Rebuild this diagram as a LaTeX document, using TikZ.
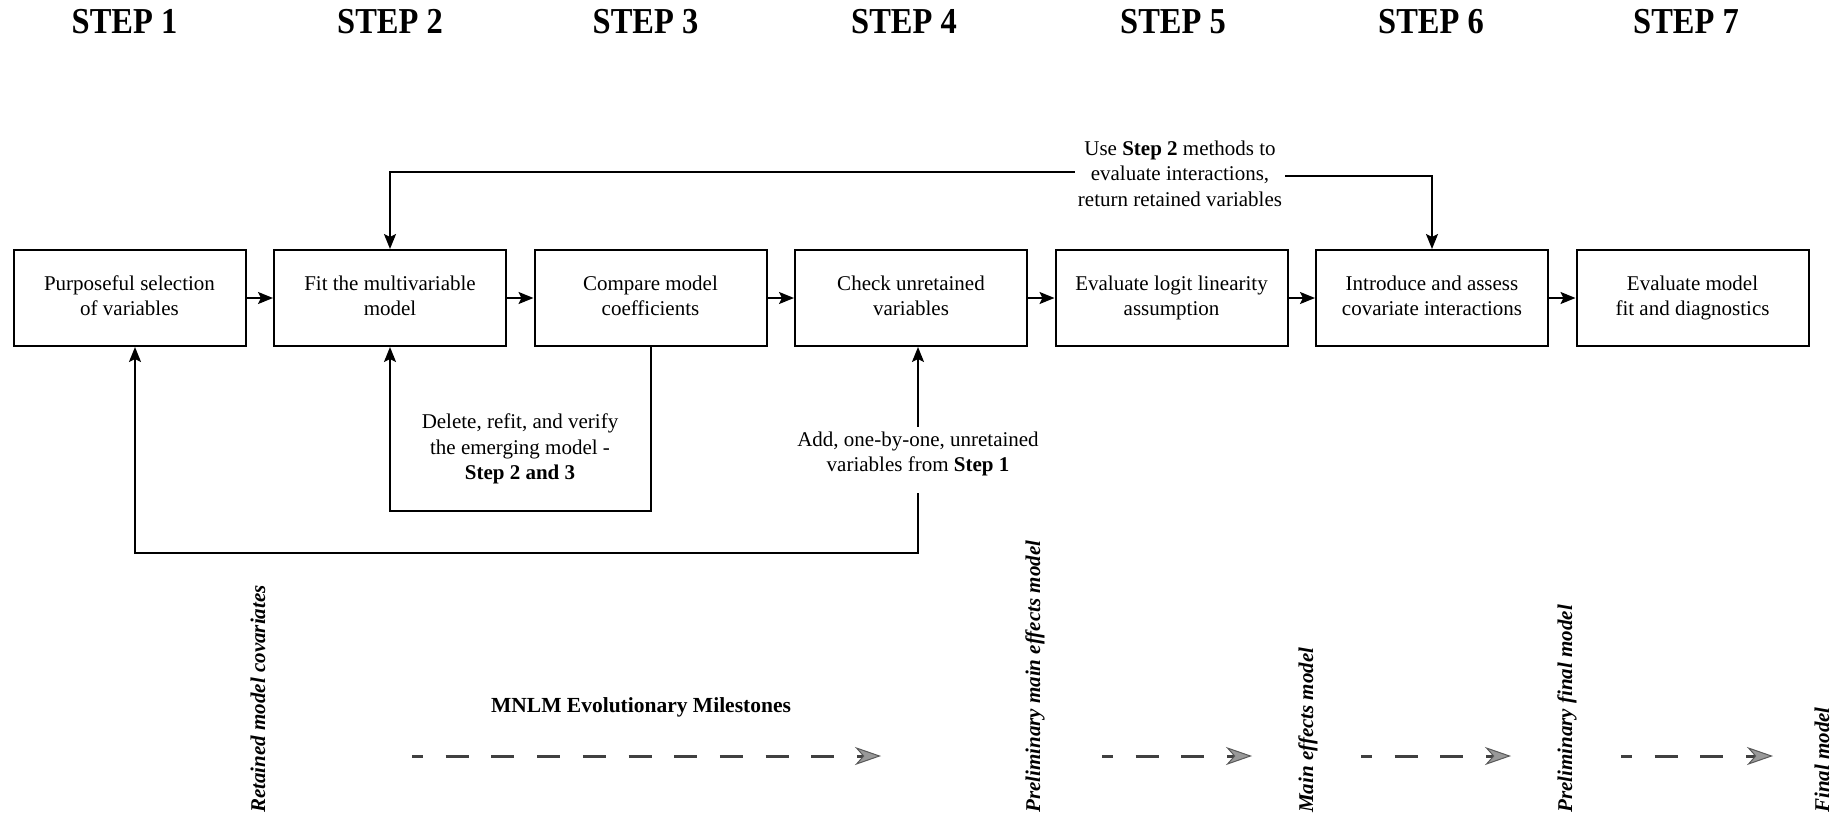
\documentclass[tikz,border=0pt]{standalone}
\usepackage{fontspec}
\setmainfont{Liberation Serif}
\newfontfamily\headfont{Liberation Serif}[FakeStretch=0.89]
\usetikzlibrary{arrows.meta,calc}

\begin{document}
\begin{tikzpicture}[x=1pt,y=-1pt,
  txt/.style={font=\fontsize{21}{25.5}\selectfont, align=center},
  stepbox/.style={txt, draw, line width=2pt, minimum width=232pt,
    minimum height=96pt, inner sep=2pt,
    execute at end node=\vphantom{p}},
  heading/.style={font=\headfont\bfseries\fontsize{36.5}{40}\selectfont, inner sep=0pt},
  conn/.style={line width=2pt, -{Stealth[length=15pt,width=12pt,inset=3pt]}},
  milestone/.style={font=\bfseries\itshape\fontsize{21}{24}\selectfont,
    rotate=90, anchor=west, inner sep=0pt},
  mile/.style={draw=black!75, line width=3pt,
    dash pattern=on 23pt off 22.7pt, dash phase=12pt,
    -{Stealth[length=26pt,width=18pt,inset=8pt,fill=black!40,color=black!65,line width=1pt]}}
]
\useasboundingbox (0,0) rectangle (1839,819);

% step headings
\node[heading] (h1) at (124.5,21.5) {STEP 1};
\node[heading] (h2) at (390,21.5) {STEP 2};
\node[heading] (h3) at (645.5,21.5) {STEP 3};
\node[heading] (h4) at (904,21.5) {STEP 4};
\node[heading] (h5) at (1173,21.5) {STEP 5};
\node[heading] (h6) at (1431,21.5) {STEP 6};
\node[heading] (h7) at (1686,21.5) {STEP 7};

% process boxes (row centred at y = 298)
\node[stepbox] (b1) at (129.5,298) {Purposeful selection\\of variables};
\node[stepbox] (b2) at (390,298) {Fit the multivariable\\model};
\node[stepbox] (b3) at (650.5,298) {Compare model\\coefficients};
\node[stepbox] (b4) at (911,298) {Check unretained\\variables};
\node[stepbox] (b5) at (1171.5,298) {Evaluate logit linearity\\assumption};
\node[stepbox] (b6) at (1432,298) {Introduce and assess\\covariate interactions};
\node[stepbox] (b7) at (1692.5,298) {Evaluate model\\fit and diagnostics};

% forward flow
\draw[conn] (b1.east) -- (b2.west);
\draw[conn] (b2.east) -- (b3.west);
\draw[conn] (b3.east) -- (b4.west);
\draw[conn] (b4.east) -- (b5.west);
\draw[conn] (b5.east) -- (b6.west);
\draw[conn] (b6.east) -- (b7.west);

% interaction feedback over the top
\node[txt, inner xsep=3pt, inner ysep=0pt] (topl) at (1180,173.5)
  {Use \textbf{Step 2} methods to\\evaluate interactions,\\return retained variables};
\draw[conn] ([yshift=1.5pt]topl.west) -| (b2.north);
\draw[conn] ([yshift=-2.5pt]topl.east) -| (b6.north);

% delete / refit loop
\node[txt, inner sep=0pt] (dell) at (520,449)
  {Delete, refit, and verify\\the emerging model -\\\textbf{Step 2 and 3}};
\draw[conn] (b3.south) -- ++(0,164) -| (b2.south);

% add unretained variables loop
\node[txt, inner sep=0pt] (addl) at (918,454)
  {Add, one-by-one, unretained\\variables from \textbf{Step 1}};
\coordinate (loopc) at (135,553);
\draw[conn] ([yshift=5pt]addl.north) -- (addl.north |- b4.south);
\draw[conn] ([yshift=-17pt]addl.south) |- (loopc) -- (loopc |- b1.south);

% milestones
\node[milestone] (m1) at (258,813) {Retained model covariates};
\node[milestone] (m2) at (1035,813) {Preliminary main effects model};
\node[milestone] (m3) at (1308,813) {Main effects model};
\node[milestone] (m4) at (1567,813) {Preliminary final model};
\node[milestone] (m5) at (1822,813) {Final model};
\node[font=\bfseries\fontsize{21.5}{24}\selectfont, inner sep=0pt] (mt) at (641,707)
  {MNLM Evolutionary Milestones};

\coordinate (mrow) at (0,756);
\draw[mile, shorten <=154pt, shorten >=154pt] (m1 |- mrow) -- (m2 |- mrow);
\draw[mile, shorten <=67pt, shorten >=56pt] (m2 |- mrow) -- (m3 |- mrow);
\draw[mile, shorten <=53pt, shorten >=56pt] (m3 |- mrow) -- (m4 |- mrow);
\draw[mile, shorten <=54pt, shorten >=49pt] (m4 |- mrow) -- (m5 |- mrow);
\end{tikzpicture}
\end{document}
